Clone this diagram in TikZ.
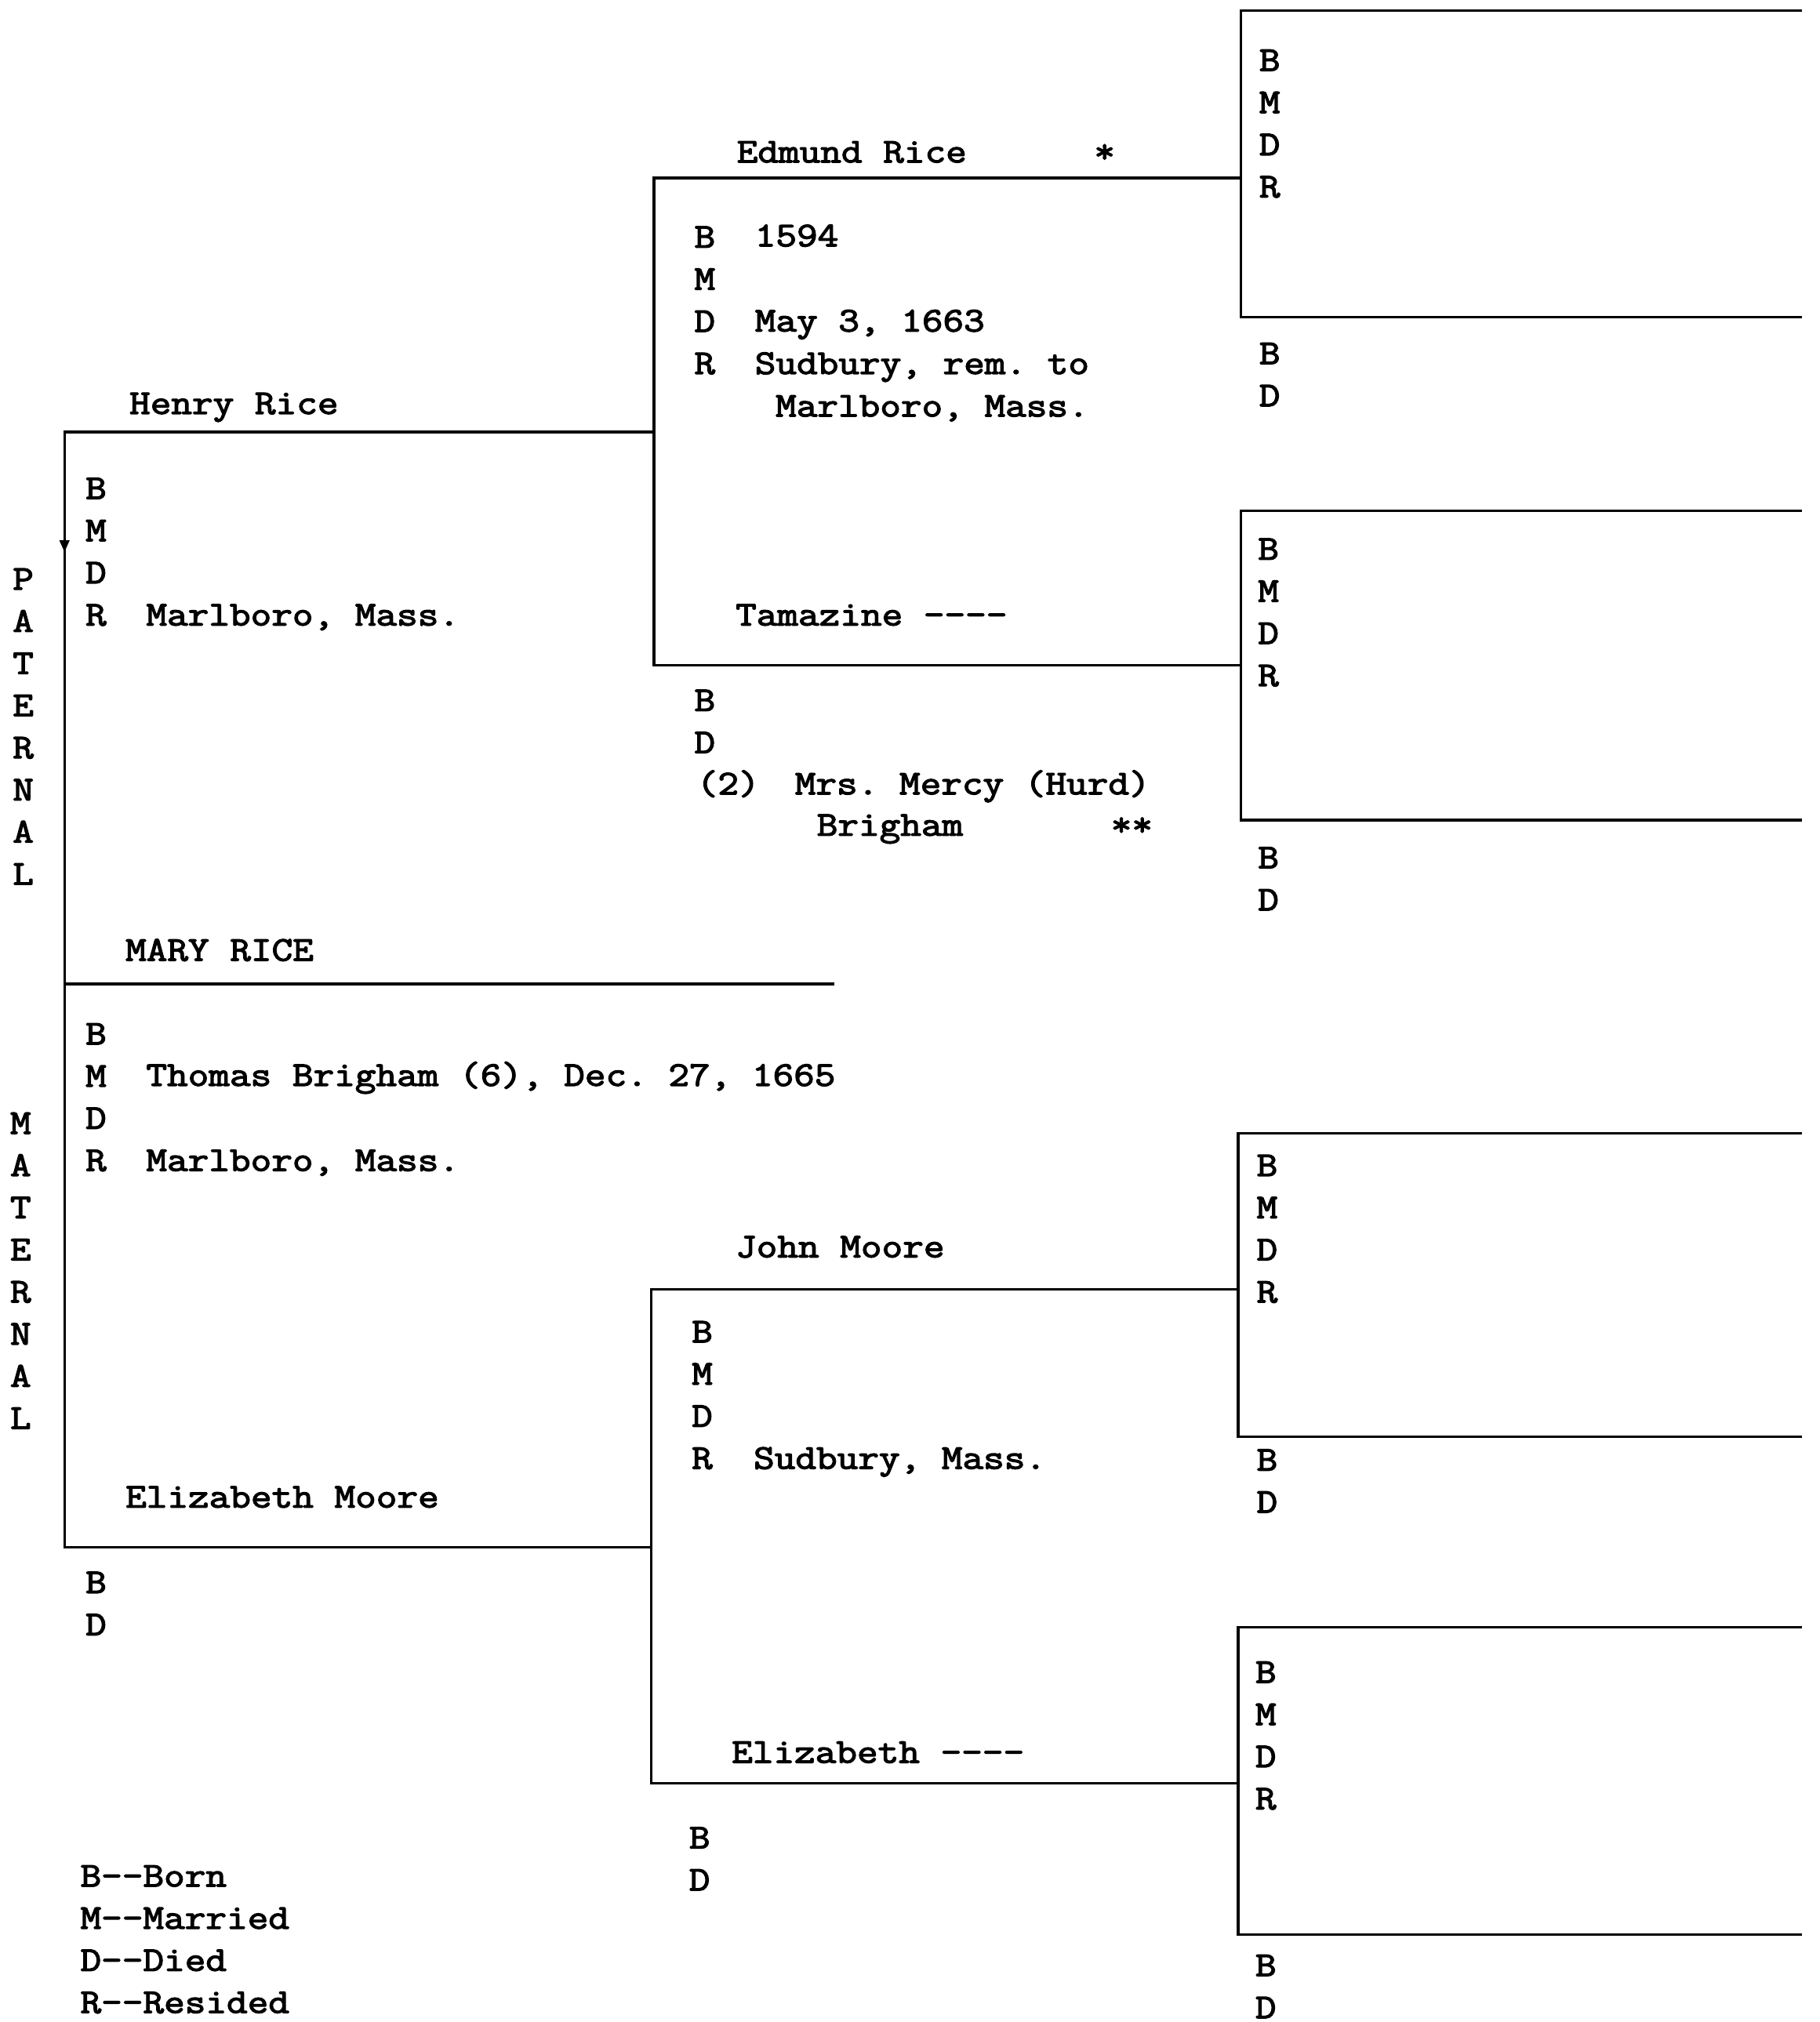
\documentclass[tikz,border=0pt]{standalone}
\usepackage{fontspec}
\newfontfamily\typewriter[Ligatures=TeXOff, FakeStretch=1.17, FakeBold=3]{Latin Modern Mono}

\begin{document}
\begin{tikzpicture}[
  x=0.02cm, y=-0.02cm,
  txt/.style={anchor=base west, inner sep=0pt, align=left, font=\typewriter\fontsize{15.3}{18.6}\selectfont\frenchspacing},
  side/.style={txt, anchor=base, align=center},
  rule/.style={line width=1.1pt}
]
\useasboundingbox (0,0) rectangle (1411,1568);

\coordinate (henryL) at (50,335);   \coordinate (henryR) at (507,335);
\coordinate (maryL) at (50,763);    \coordinate (maryR) at (647,763);
\coordinate (elizmL) at (50,1200);  \coordinate (elizmR) at (505,1200);
\coordinate (edmundL) at (507,138); \coordinate (edmundR) at (962,138);
\coordinate (tamL) at (507,516);    \coordinate (tamR) at (962,516);
\coordinate (johnL) at (505,1000);  \coordinate (johnR) at (960,1000);
\coordinate (elizL) at (505,1383);  \coordinate (elizR) at (960,1383);

\draw[rule] (henryR) -- (henryL) -- (elizmL) -- (elizmR);
\draw[rule] (maryL) -- (maryR);
\draw[rule] (edmundR) -- (edmundL) -- (tamL) -- (tamR);
\draw[rule] (johnR) -- (johnL) -- (elizL) -- (elizR);
\fill (46,419) -- (54,419) -- (50,428) -- cycle;

\draw[rule] (1397,8) -- (962,8) -- (962,246) -- (1397,246);
\draw[rule] (1397,396) -- (962,396) -- (962,636) -- (1397,636);
\draw[rule] (1397,879) -- (960,879) -- (960,1114) -- (1397,1114);
\draw[rule] (1397,1262) -- (960,1262) -- (960,1500) -- (1397,1500);

\node[side] (paternal) at (18,686) {P\\A\\T\\E\\R\\N\\A\\L};
\node[side] (maternal) at (16,1108) {M\\A\\T\\E\\R\\N\\A\\L};

\node[txt] (henry) at (100,321) {Henry Rice};
\node[txt] (henry-bmdr) at (66,485) {B\\M\\D\\R};
\node[txt] (henry-r) at (113,485) {Marlboro, Mass.};

\node[txt] (mary) at (97,745) {MARY RICE};
\node[txt] (mary-bmdr) at (66,908) {B\\M\\D\\R};
\node[txt] (mary-m) at (113,842) {Thomas Brigham (6), Dec. 27, 1665};
\node[txt] (mary-r) at (113,908) {Marlboro, Mass.};

\node[txt] (elizm) at (97,1169) {Elizabeth Moore};
\node[txt] (elizm-bd) at (66,1268) {B\\D};

\node[txt] (legend) at (62,1561) {B--Born\\M--Married\\D--Died\\R--Resided};

\node[txt] (edmund) at (571,126) {Edmund Rice};
\node[txt] (edmund-star) at (848,126) {*};
\node[txt] (edmund-bmdr) at (538,290) {B\\M\\D\\R};
\node[txt] (edmund-b) at (585,191) {1594};
\node[txt] (edmund-d) at (585,257) {May 3, 1663};
\node[txt] (edmund-r) at (585,290) {Sudbury, rem. to};
\node[txt] (edmund-r2) at (601,323) {Marlboro, Mass.};

\node[txt] (tam) at (570,485) {Tamazine ----};
\node[txt] (tam-bd) at (538,584) {B\\D};
\node[txt] (tam-2) at (540,616) {(2)};
\node[txt] (tam-mercy) at (616,616) {Mrs. Mercy (Hurd)};
\node[txt] (tam-brigham) at (633,648) {Brigham};
\node[txt] (tam-star) at (861,648) {**};

\node[txt] (john) at (570,975) {John Moore};
\node[txt] (john-bmdr) at (536,1139) {B\\M\\D\\R};
\node[txt] (john-r) at (584,1139) {Sudbury, Mass.};

\node[txt] (eliz) at (567,1367) {Elizabeth ----};
\node[txt] (eliz-bd) at (534,1466) {B\\D};

\node[txt] (box1-bmdr) at (976,153) {B\\M\\D\\R};
\node[txt] (box1-bd) at (976,315) {B\\D};
\node[txt] (box2-bmdr) at (975,532) {B\\M\\D\\R};
\node[txt] (box2-bd) at (975,706) {B\\D};
\node[txt] (box3-bmdr) at (974,1010) {B\\M\\D\\R};
\node[txt] (box3-bd) at (974,1173) {B\\D};
\node[txt] (box4-bmdr) at (973,1403) {B\\M\\D\\R};
\node[txt] (box4-bd) at (973,1565) {B\\D};
\end{tikzpicture}
\end{document}
